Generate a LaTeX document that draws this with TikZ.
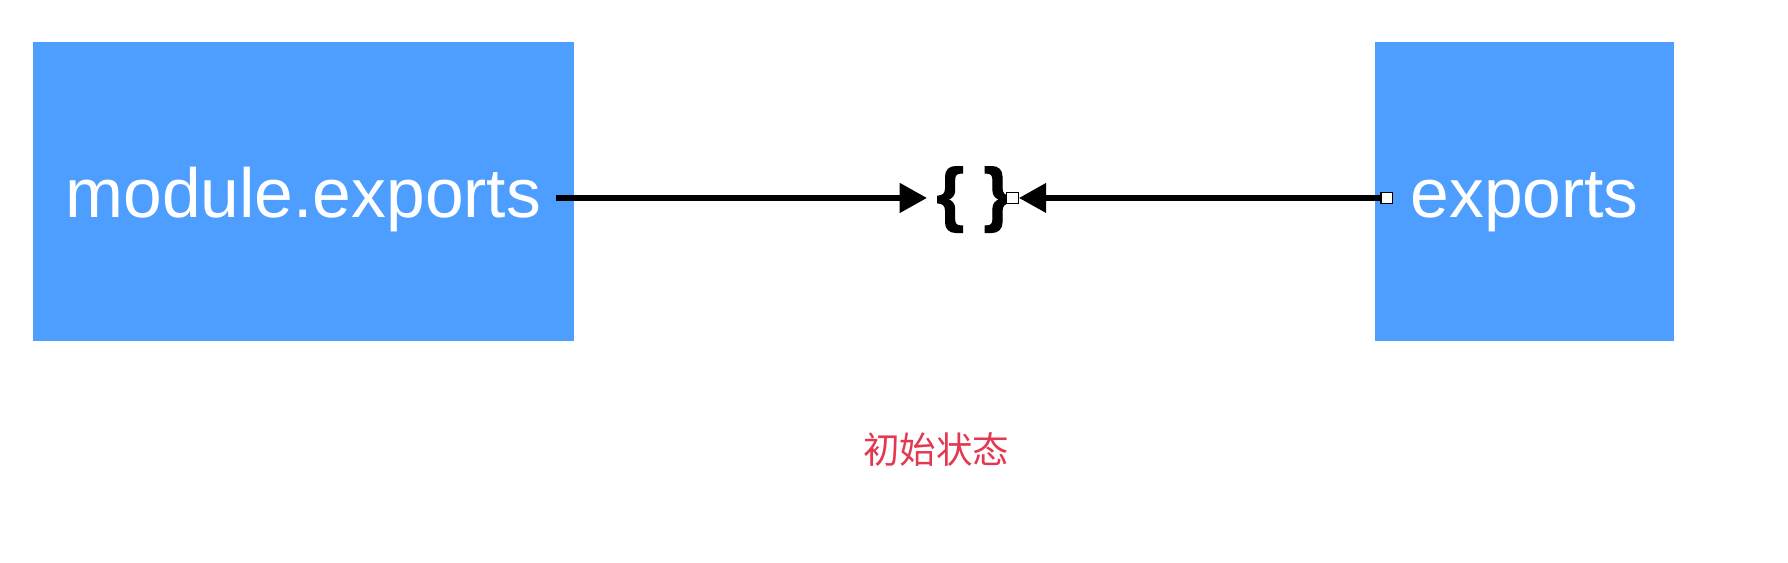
\documentclass[tikz,border=0pt]{standalone}
\usepackage{fontspec}
\setmainfont{Liberation Sans}
\newfontfamily\cjk{Noto Sans CJK SC}
\newfontfamily\objfont[FakeBold=1.5]{Liberation Sans Bold}
\usepackage{tikz}
\usetikzlibrary{positioning,arrows.meta}

\definecolor{jsblue}{RGB}{77,158,255}
\definecolor{notered}{RGB}{226,56,80}

\begin{document}
\begin{tikzpicture}[
	x=0.5pt, y=-0.5pt,
	box/.style={rectangle, draw=none, fill=jsblue, inner sep=0pt,
		minimum height=131pt, text=white, text centered,
		font=\fontsize{30.5}{36}\selectfont, text height=23pt, text depth=0pt},
	obj/.style={inner sep=0pt, anchor=base, font=\objfont\fontsize{31}{36}\selectfont},
	handle/.style={rectangle, draw=black, line width=0.5pt, fill=white,
		inner sep=0pt, minimum size=5pt},
	conn/.style={line width=2.6pt, -{Triangle[length=12pt,width=12.5pt]}},
	note/.style={text=notered, font=\cjk\fontsize{16}{19}\selectfont}
	]
	\useasboundingbox (0,0) rectangle (1568,493);
	\node (modexp) [box, minimum width=237pt] at (266,168) {module.exports};
	\node (exp) [box, minimum width=131pt] at (1337,168) {exports};
	\node (obj) [obj] at (854,191) {\{ \}};
	\node (objin) [handle] at (888,173.6) {};
	\node (expout) [handle] at (1216,173.6) {};
	\coordinate (modout) at (488,173.6);
	\coordinate (objleft) at (813,173.6);
	\draw[conn] (modout) -- (objleft);
	\draw[conn] (expout) -- (objin);
	\node (state) [note] at (821,394) {初始状态};
\end{tikzpicture}
\end{document}
